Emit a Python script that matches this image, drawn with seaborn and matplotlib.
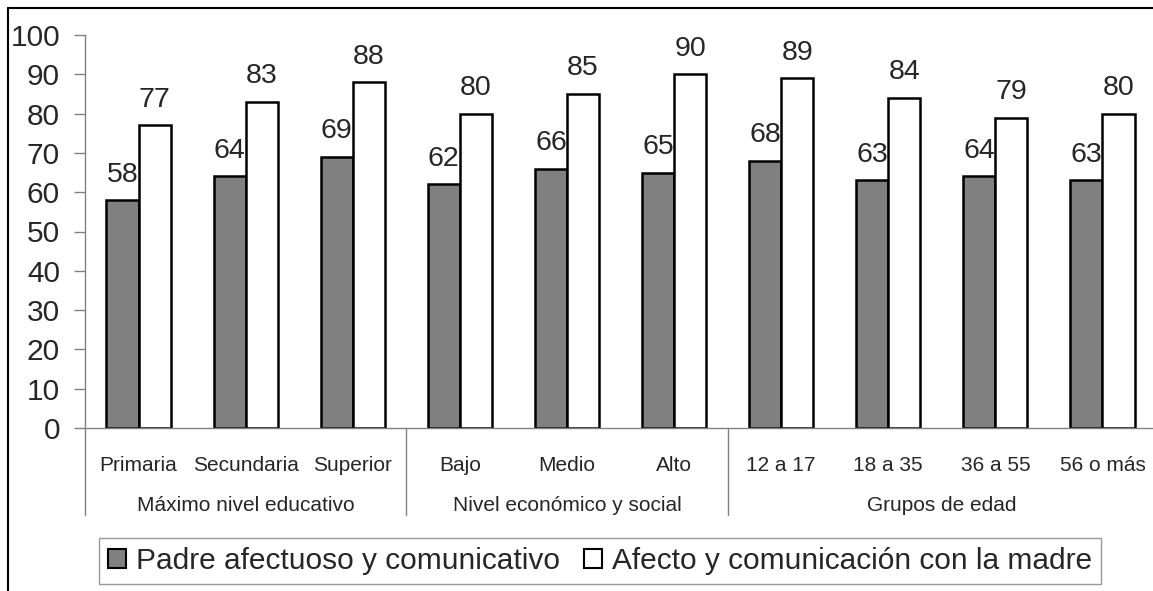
import matplotlib.pyplot as plt
import matplotlib.lines as mlines
import matplotlib.patches as mpatches
import matplotlib.transforms as mtransforms
import seaborn as sns
import pandas as pd

categories = ["Primaria", "Secundaria", "Superior", "Bajo", "Medio", "Alto",
              "12 a 17", "18 a 35", "36 a 55", "56 o más"]
groups = ["Máximo nivel educativo", "Nivel económico y social", "Grupos de edad"]
group_sizes = [3, 3, 4]
padre = [58, 64, 69, 62, 66, 65, 68, 63, 64, 63]
madre = [77, 83, 88, 80, 85, 90, 89, 84, 79, 80]
series = ["Padre afectuoso y comunicativo", "Afecto y comunicación con la madre"]
colors = ["#808080", "#ffffff"]
y_ticks = list(range(0, 101, 10))

df = pd.DataFrame({
    "categoria": categories * 2,
    "valor": padre + madre,
    "serie": [series[0]] * len(categories) + [series[1]] * len(categories),
})

sns.set_style("white")
plt.rcParams["font.family"] = ["Liberation Sans", "DejaVu Sans"]

W, H = 1153, 591
fig = plt.figure(figsize=(W / 100, H / 100), dpi=100)
ax = fig.add_axes([85 / W, 1 - 428 / H, (1156 - 85) / W, 393 / H])

sns.barplot(
    data=df, x="categoria", y="valor", hue="serie",
    order=categories, hue_order=series, palette=colors,
    edgecolor="black", linewidth=1.8, width=0.6, legend=False, ax=ax
)

for container in ax.containers:
    ax.bar_label(container, padding=9, fontsize=20.5)

ax.set_ylim(0, 100)
ax.set_xlim(-0.5, len(categories) - 0.5)
ax.set_yticks(y_ticks)
ax.set_xlabel("")
ax.set_ylabel("")
ax.tick_params(axis="y", left=True, length=8, width=1, color="#808080",
               labelsize=21.5, pad=10)
ax.tick_params(axis="x", bottom=False, labelsize=15, pad=17)
for side in ["top", "right"]:
    ax.spines[side].set_visible(False)
for side in ["left", "bottom"]:
    ax.spines[side].set_color("#808080")
    ax.spines[side].set_linewidth(1)

# group separators and group labels under the axis
trans = mtransforms.blended_transform_factory(ax.transData, ax.transAxes)
start = 0
for name, size in zip(groups, group_sizes):
    ax.plot([start - 0.5, start - 0.5], [0, -0.222], transform=trans,
            color="#808080", lw=1, clip_on=False)
    ax.text(start + (size - 1) / 2, -0.21, name, transform=trans,
            ha="center", va="baseline", fontsize=15)
    start += size

# legend
handles = [mpatches.Patch(facecolor=c, edgecolor="black", linewidth=1.5) for c in colors]
leg = fig.legend(handles, series, loc="center",
                 bbox_to_anchor=(600 / W, 1 - 561 / H), ncol=2, fontsize=21.5,
                 frameon=True, fancybox=False, edgecolor="#808080",
                 handlelength=0.62, handleheight=0.62, handletextpad=0.32,
                 columnspacing=0.8, borderpad=0.3, borderaxespad=0)
leg.get_frame().set_linewidth(1)

# partial outer frame
fig.add_artist(mlines.Line2D([8 / W, 1], [1 - 8 / H, 1 - 8 / H],
                             transform=fig.transFigure, color="black", lw=1.5))
fig.add_artist(mlines.Line2D([8 / W, 8 / W], [0, 1 - 8 / H],
                             transform=fig.transFigure, color="black", lw=1.5))

fig.savefig("out.png", dpi=100)
